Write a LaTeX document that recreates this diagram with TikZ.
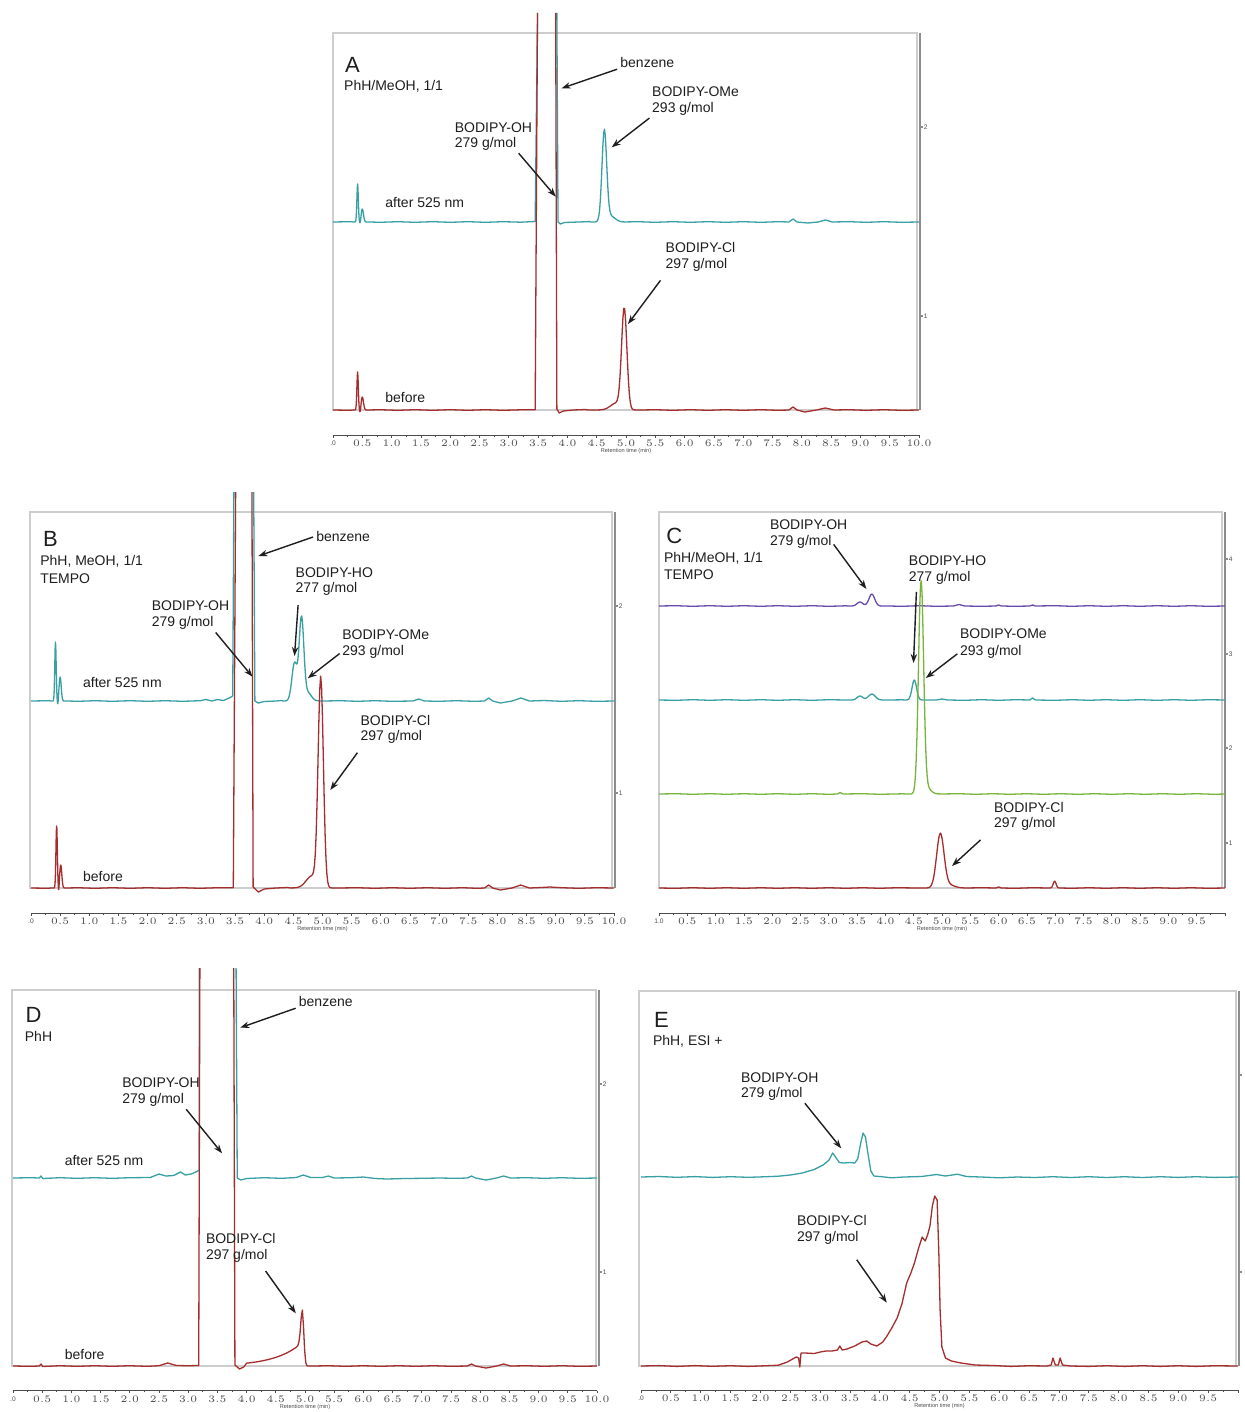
\documentclass[tikz,border=0pt]{standalone}
\usepackage{fontspec}
\setmainfont{Liberation Sans}
\usetikzlibrary{arrows.meta}

\definecolor{tealtr}{RGB}{56,160,165}
\definecolor{redtr}{RGB}{165,45,45}
\definecolor{purtr}{RGB}{105,75,170}
\definecolor{grntr}{RGB}{120,180,60}
\definecolor{framec}{RGB}{205,205,205}
\definecolor{axisc}{RGB}{140,140,140}
\definecolor{textc}{RGB}{30,30,30}

\tikzset{
  lbl/.style={anchor=west, inner sep=0pt, text=textc, font=\fontsize{7}{8}\selectfont},
  panel/.style={anchor=west, inner sep=0pt, text=textc, font=\fontsize{11}{12}\selectfont},
  arr/.style={-{Stealth[length=4.5pt,width=3.2pt]}, line width=0.7pt, draw=textc, shorten <=1.5pt},
  trace/.style={line width=0.65pt, line join=round},
  framel/.style={draw=framec, line width=0.6pt},
  yaxl/.style={draw=axisc, line width=1pt},
  axl/.style={draw=black!70, line width=0.4pt},
  ticklbl/.style={inner sep=0pt, font=\fontsize{3.3}{4}\selectfont, text=black!70},
  axtitle/.style={inner sep=0pt, font=\fontsize{2.8}{3}\selectfont, text=black!70}
}

% one gaussian term: centre, width, height (in px)
\newcommand{\gterm}[3]{#3*exp(-0.5*min(((\x-#1)/#2)^2,16))}
% a sampled piece of a trace
\newcommand{\pkseg}[4]{-- plot[domain=#1:#2,samples=#3] (\x,{#4})}

% retention time axis: x0, y, px per min, last label, first label, name
\newcommand{\rtaxis}[6]{%
  \begin{scope}[shift={(#1,#2)},xscale=#3]
    \draw[axl] (0,0) -- (10,0);
    \foreach \k in {0,...,40} {\draw[axl] (\k/4,0) -- (\k/4,1.8);}
    \foreach \k in {0,2,...,40} {\draw[axl] (\k/4,0) -- (\k/4,2.6);}
    \node[ticklbl] (#6l0) at (0,8.5) {#5};
    \foreach \k in {1,...,#4} {%
      \pgfmathsetmacro\tv{\k/2}%
      \node[ticklbl] (#6l\k) at (\tv,8.5) {\pgfmathprintnumber[fixed,fixed zerofill,precision=1]{\tv}};}
    \node[axtitle] (#6ttl) at (5,16.5) {Retention time (min)};
  \end{scope}}

\begin{document}
\begin{tikzpicture}[x=0.5pt,y=-0.5pt]
\useasboundingbox[fill=white] (0,0) rectangle (1244,1412);

%% ---------------- panel A ----------------
\draw[framel] (333,33) rectangle (917,410);
\draw[yaxl] (919.5,33) -- (919.5,410);
\foreach \yy/\ll in {127/2,316/1} {
  \draw[yaxl] (919.5,\yy) -- (922.5,\yy);
  \node[ticklbl,anchor=west] (yA\ll) at (923.5,\yy) {\ll};
}
\rtaxis{333}{435}{58.6}{20}{.0}{xA}

\begin{scope}[shift={(333,222)},xscale=58.6,yscale=-1]
  \draw[trace,tealtr] (0,0) -- (0.3,0.3)
    \pkseg{0.34}{0.62}{50}{\gterm{0.42}{0.012}{38}+\gterm{0.5}{0.02}{13}-\gterm{0.465}{0.01}{3}}
    -- (0.8,-0.3) -- (1.1,0.3) -- (1.4,-0.3) -- (1.7,0.3) -- (2.0,-0.3) -- (2.3,0.3)
    -- (2.6,-0.3) -- (2.9,0.3) -- (3.2,-0.2) -- (3.45,0.5) -- (3.49,209)
    (3.82,209) -- (3.84,0) -- (3.88,-2) -- (3.95,-0.5) -- (4.2,0) -- (4.38,0.4)
    \pkseg{4.4}{5.0}{45}{\gterm{4.63}{0.04}{90}+\gterm{4.73}{0.08}{6}}
    -- (5.2,0.3) -- (5.5,-0.3) -- (5.8,0.3) -- (6.1,-0.3) -- (6.4,0.3) -- (6.7,-0.3)
    -- (7.0,0.3) -- (7.3,-0.3) -- (7.6,0.3) -- (7.78,0) -- (7.85,3) -- (7.92,0)
    -- (8.1,-1) -- (8.28,0) -- (8.4,2) -- (8.52,0) -- (8.8,0.3) -- (9.1,-0.3)
    -- (9.4,0.3) -- (9.7,-0.3) -- (10,0);
\end{scope}
\begin{scope}[shift={(333,410)},xscale=58.6,yscale=-1]
  \draw[trace,redtr] (0,0) -- (0.3,-0.3)
    \pkseg{0.34}{0.62}{50}{\gterm{0.42}{0.012}{38}+\gterm{0.5}{0.02}{13}-\gterm{0.465}{0.01}{4}}
    -- (0.8,0.3) -- (1.1,-0.3) -- (1.4,0.3) -- (1.7,-0.3) -- (2.0,0.3) -- (2.3,-0.3)
    -- (2.6,0.3) -- (2.9,-0.3) -- (3.2,0.2) -- (3.45,0.3) -- (3.49,397)
    (3.80,397) -- (3.82,1) -- (3.86,-3) -- (3.93,-1) -- (4.1,0) -- (4.3,0.5)
    \pkseg{4.35}{5.3}{60}{\gterm{4.97}{0.045}{100}+\gterm{4.84}{0.1}{7}}
    -- (5.5,0.3) -- (5.8,-0.3) -- (6.1,0.3) -- (6.4,-0.3) -- (6.7,0.3) -- (7.0,-0.3)
    -- (7.3,0.3) -- (7.6,-0.3) -- (7.78,0) -- (7.85,3) -- (7.92,0) -- (8.05,-2)
    -- (8.25,0) -- (8.4,2) -- (8.55,0) -- (8.8,0.3) -- (9.1,-0.3) -- (9.4,0.3)
    -- (9.7,-0.3) -- (10,0);
\end{scope}

\node[panel] (letA) at (344.6,65) {A};
\node[lbl] (condA) at (343.8,86) {PhH/MeOH, 1/1};
\node[lbl] (benzA) at (620,62.7) {benzene};
\node[lbl] (omeA1) at (651.8,91.7) {BODIPY-OMe};
\node[lbl] (omeA2) at (651.8,109.3) {293 g/mol};
\node[lbl] (ohA1) at (454.4,127.3) {BODIPY-OH};
\node[lbl] (ohA2) at (454.4,144) {279 g/mol};
\node[lbl] (aftA) at (385,203) {after 525 nm};
\node[lbl] (clA1) at (665.3,247.7) {BODIPY-Cl};
\node[lbl] (clA2) at (665.3,265) {297 g/mol};
\node[lbl] (befA) at (385,397.7) {before};

\coordinate (benzAp) at (561.6,88.3);
\coordinate (omeAp) at (611.7,147.3);
\coordinate (ohAp) at (555.8,196.7);
\coordinate (clAp) at (628,324);
\draw[arr] (benzA.south west) -- (benzAp);
\draw[arr] (omeA2.south west) -- (omeAp);
\draw[arr] (ohA2.south east) -- (ohAp);
\draw[arr] ([shift={(-3,6)}]clA2.south west) -- (clAp);

%% ---------------- panel B ----------------
\draw[framel] (30,512) rectangle (612,888);
\draw[yaxl] (614.5,512) -- (614.5,888);
\foreach \yy/\ll in {606/2,793/1} {
  \draw[yaxl] (614.5,\yy) -- (617.5,\yy);
  \node[ticklbl,anchor=west] (yB\ll) at (618.5,\yy) {\ll};
}
\rtaxis{31}{913}{58.3}{20}{.0}{xB}

\begin{scope}[shift={(31,701)},xscale=58.3,yscale=-1]
  \draw[trace,tealtr] (0,0) -- (0.3,0.3)
    \pkseg{0.34}{0.62}{50}{\gterm{0.42}{0.012}{59}+\gterm{0.5}{0.018}{24}-\gterm{0.46}{0.008}{5}}
    -- (0.8,-0.3) -- (1.1,0.3) -- (1.4,-0.3) -- (1.7,0.3) -- (2.0,-0.3) -- (2.3,0.3)
    -- (2.6,-0.3) -- (2.9,0.3) -- (3.0,1.5) -- (3.1,0) -- (3.2,1.5) -- (3.3,0.5)
    -- (3.4,3) -- (3.46,5) -- (3.48,209)
    (3.82,209) -- (3.84,0) -- (3.9,-2) -- (4.0,-0.5) -- (4.2,0) -- (4.3,0.5)
    \pkseg{4.32}{5.05}{55}{\gterm{4.52}{0.045}{38}+\gterm{4.64}{0.04}{83}+\gterm{4.75}{0.06}{8}}
    -- (5.3,0.3) -- (5.6,-0.3) -- (5.9,0.3) -- (6.2,-0.3) -- (6.55,0) -- (6.65,2)
    -- (6.75,0) -- (7.0,-0.3) -- (7.3,0.3) -- (7.6,-0.3) -- (7.78,0) -- (7.85,3)
    -- (7.92,0) -- (8.05,-2) -- (8.25,0) -- (8.4,3) -- (8.55,0) -- (8.8,0.5)
    -- (9.1,-0.3) -- (9.4,0.3) -- (9.7,-0.3) -- (10,0);
\end{scope}
\begin{scope}[shift={(31,888)},xscale=58.3,yscale=-1]
  \draw[trace,redtr] (0,0) -- (0.3,-0.3)
    \pkseg{0.34}{0.64}{50}{\gterm{0.44}{0.012}{63}+\gterm{0.51}{0.018}{23}-\gterm{0.475}{0.008}{6}}
    -- (0.8,0.3) -- (1.1,-0.3) -- (1.4,0.3) -- (1.7,-0.3) -- (2.0,0.3) -- (2.3,-0.3)
    -- (2.6,0.3) -- (2.9,-0.3) -- (3.2,0.3) -- (3.47,0.3) -- (3.51,396)
    (3.79,396) -- (3.81,1) -- (3.9,-4) -- (4.0,-1) -- (4.2,0) -- (4.4,0.5)
    \pkseg{4.45}{5.35}{60}{\gterm{4.97}{0.045}{208}+\gterm{4.82}{0.1}{12}}
    -- (5.6,0.3) -- (5.9,-0.3) -- (6.2,0.3) -- (6.5,-0.3) -- (6.8,0.3) -- (7.1,-0.3)
    -- (7.4,0.3) -- (7.65,-0.3) -- (7.78,0) -- (7.85,3) -- (7.92,0) -- (8.05,-2)
    -- (8.25,0) -- (8.4,3) -- (8.55,0) -- (8.75,0.5) -- (8.9,1) -- (9.1,0.3)
    -- (9.4,-0.3) -- (9.7,0.3) -- (10,0);
\end{scope}

\node[panel] (letB) at (42.7,539.3) {B};
\node[lbl] (condB1) at (39.9,561.7) {PhH, MeOH, 1/1};
\node[lbl] (condB2) at (39.9,578.3) {TEMPO};
\node[lbl] (benzB) at (315.9,536) {benzene};
\node[lbl] (hoB1) at (295.3,572.7) {BODIPY-HO};
\node[lbl] (hoB2) at (295.3,589.3) {277 g/mol};
\node[lbl] (ohB1) at (151.5,606) {BODIPY-OH};
\node[lbl] (ohB2) at (151.5,623.3) {279 g/mol};
\node[lbl] (omeB1) at (342,635) {BODIPY-OMe};
\node[lbl] (omeB2) at (342,651.7) {293 g/mol};
\node[lbl] (aftB) at (82.7,682.3) {after 525 nm};
\node[lbl] (clB1) at (360.2,720.7) {BODIPY-Cl};
\node[lbl] (clB2) at (360.2,737.3) {297 g/mol};
\node[lbl] (befB) at (82.7,876.7) {before};

\coordinate (benzBp) at (258.4,556);
\coordinate (hoBp) at (294.5,656);
\coordinate (ohBp) at (252.5,676.7);
\coordinate (omeBp) at (307.7,678.3);
\coordinate (clBp) at (330.3,790);
\draw[arr] (benzB.west) -- (benzBp);
\draw[arr] ([shift={(3,6)}]hoB2.south west) -- (hoBp);
\draw[arr] (ohB2.south east) -- (ohBp);
\draw[arr] (omeB2.west) -- (omeBp);
\draw[arr] ([shift={(-1,6)}]clB2.south west) -- (clBp);

%% ---------------- panel C ----------------
\draw[framel] (659,512) rectangle (1222,888);
\draw[yaxl] (1224.5,512) -- (1224.5,888);
\foreach \yy/\ll in {559/4,654/3,748/2,843/1} {
  \draw[yaxl] (1224.5,\yy) -- (1227.5,\yy);
  \node[ticklbl,anchor=west] (yC\ll) at (1228.5,\yy) {\ll};
}
\rtaxis{659}{913}{56.6}{19}{1.0}{xC}

\begin{scope}[shift={(659,606)},xscale=56.6,yscale=-1]
  \draw[trace,purtr] (0,0) -- (0.3,0.3) -- (0.6,-0.3) -- (0.9,0.3) -- (1.2,-0.3)
    -- (1.5,0.3) -- (1.8,-0.3) -- (2.1,0.3) -- (2.4,-0.3) -- (2.7,0.3) -- (3.0,-0.3)
    -- (3.3,0.2)
    \pkseg{3.35}{4.05}{35}{\gterm{3.55}{0.05}{4}+\gterm{3.76}{0.05}{12}}
    -- (4.3,-0.3) -- (4.6,0.3) -- (4.9,-0.3) -- (5.2,0) -- (5.3,1.5) -- (5.4,0)
    -- (5.7,-0.3) -- (5.95,0) -- (6.0,1) -- (6.05,0) -- (6.3,-0.3) -- (6.55,0)
    -- (6.6,1) -- (6.65,0) -- (7.0,0.3) -- (7.3,-0.3) -- (7.6,0.3) -- (7.9,-0.3)
    -- (8.2,0.3) -- (8.5,-0.3) -- (8.8,0.3) -- (9.1,-0.3) -- (9.4,0.3) -- (9.7,-0.3)
    -- (10,0);
\end{scope}
\begin{scope}[shift={(659,700)},xscale=56.6,yscale=-1]
  \draw[trace,tealtr] (0,0) -- (0.3,-0.3) -- (0.6,0.3) -- (0.9,-0.3) -- (1.2,0.3)
    -- (1.5,-0.3) -- (1.8,0.3) -- (2.1,-0.3) -- (2.4,0.3) -- (2.7,-0.3) -- (3.0,0.3)
    -- (3.3,0)
    \pkseg{3.35}{4.05}{35}{\gterm{3.55}{0.05}{4}+\gterm{3.76}{0.06}{6}}
    -- (4.3,0.2)
    \pkseg{4.35}{4.7}{30}{\gterm{4.51}{0.04}{20}}
    -- (4.9,0) -- (5.0,1) -- (5.1,0) -- (5.4,-0.3) -- (5.7,0.3) -- (6.0,-0.3)
    -- (6.3,0.3) -- (6.55,0) -- (6.6,2) -- (6.65,0) -- (7.0,-0.3) -- (7.3,0.3)
    -- (7.6,-0.3) -- (7.9,0.3) -- (8.2,-0.3) -- (8.5,0.3) -- (8.8,-0.3) -- (9.1,0.3)
    -- (9.4,-0.3) -- (9.7,0.3) -- (10,0);
\end{scope}
\begin{scope}[shift={(659,794)},xscale=56.6,yscale=-1]
  \draw[trace,grntr] (0,0) -- (0.3,0.3) -- (0.6,-0.3) -- (0.9,0.3) -- (1.2,-0.3)
    -- (1.5,0.3) -- (1.8,-0.3) -- (2.1,0.3) -- (2.4,-0.3) -- (2.7,0.3) -- (3.0,-0.3)
    -- (3.15,0) -- (3.2,1.5) -- (3.25,0) -- (3.6,0.3) -- (3.9,-0.3) -- (4.3,0.2)
    \pkseg{4.35}{5.05}{55}{\gterm{4.63}{0.045}{212}+\gterm{4.73}{0.07}{6}}
    -- (5.3,0.3) -- (5.6,-0.3) -- (5.9,0.3) -- (6.2,-0.3) -- (6.5,0.3) -- (6.8,-0.3)
    -- (7.1,0.3) -- (7.4,-0.3) -- (7.7,0.3) -- (8.0,-0.3) -- (8.3,0.3) -- (8.6,-0.3)
    -- (8.9,0.3) -- (9.2,-0.3) -- (9.5,0.3) -- (9.8,-0.3) -- (10,0);
\end{scope}
\begin{scope}[shift={(659,888)},xscale=56.6,yscale=-1]
  \draw[trace,redtr] (0,0) -- (0.3,-0.3) -- (0.6,0.3) -- (0.9,-0.3) -- (1.2,0.3)
    -- (1.5,-0.3) -- (1.8,0.3) -- (2.1,-0.3) -- (2.4,0.3) -- (2.7,-0.3) -- (3.0,0.3)
    -- (3.3,-0.3) -- (3.6,0.3) -- (3.9,-0.3) -- (4.2,0.3) -- (4.55,0)
    \pkseg{4.6}{5.45}{45}{\gterm{4.97}{0.065}{54}+\gterm{5.12}{0.1}{3}}
    -- (5.7,0.3) -- (5.95,0) -- (6.0,1) -- (6.05,0) -- (6.3,-0.3) -- (6.6,0.3)
    -- (6.88,0)
    \pkseg{6.9}{7.08}{14}{\gterm{6.99}{0.025}{7}}
    -- (7.3,-0.3) -- (7.6,0.3) -- (7.9,-0.3) -- (8.2,0.3) -- (8.5,-0.3) -- (8.8,0.3)
    -- (9.1,-0.3) -- (9.4,0.3) -- (9.7,-0.3) -- (10,0);
\end{scope}

\node[panel] (letC) at (666,536) {C};
\node[lbl] (condC1) at (663.6,558) {PhH/MeOH, 1/1};
\node[lbl] (condC2) at (663.6,575) {TEMPO};
\node[lbl] (ohC1) at (769.6,525) {BODIPY-OH};
\node[lbl] (ohC2) at (769.6,542) {279 g/mol};
\node[lbl] (hoC1) at (908.5,561) {BODIPY-HO};
\node[lbl] (hoC2) at (908.5,578) {277 g/mol};
\node[lbl] (omeC1) at (959.7,634) {BODIPY-OMe};
\node[lbl] (omeC2) at (959.7,652) {293 g/mol};
\node[lbl] (clC1) at (993.7,807) {BODIPY-Cl};
\node[lbl] (clC2) at (993.7,824) {297 g/mol};

\coordinate (ohCp) at (866.4,589);
\coordinate (hoCp) at (913.5,663);
\coordinate (omeCp) at (925.8,678);
\coordinate (clCp) at (952,866);
\draw[arr] (ohC2.east) -- (ohCp);
\draw[arr] ([shift={(8,4)}]hoC2.south west) -- (hoCp);
\draw[arr] (omeC2.west) -- (omeCp);
\draw[arr] ([shift={(-11,7)}]clC2.south west) -- (clCp);

%% ---------------- panel D ----------------
\draw[framel] (12,990) rectangle (596,1366);
\draw[yaxl] (598.5,990) -- (598.5,1366);
\foreach \yy/\ll in {1084/2,1272/1} {
  \draw[yaxl] (598.5,\yy) -- (601.5,\yy);
  \node[ticklbl,anchor=west] (yD\ll) at (602.5,\yy) {\ll};
}
\rtaxis{13}{1390.5}{58.4}{20}{.0}{xD}

\begin{scope}[shift={(13,1178)},xscale=58.4,yscale=-1]
  \draw[trace,tealtr] (0,0) -- (0.3,0.3) -- (0.45,0) -- (0.48,2) -- (0.51,-0.5)
    -- (0.8,0.3) -- (1.1,-0.3) -- (1.4,0.3) -- (1.7,-0.3) -- (2.0,0.3) -- (2.35,0.5)
    -- (2.5,4) -- (2.62,2) -- (2.75,2.5) -- (2.87,6) -- (2.95,3) -- (3.05,4)
    -- (3.15,6.5) -- (3.19,8) -- (3.19,210)
    (3.82,210) -- (3.84,0) -- (3.9,-2) -- (4.0,-0.5) -- (4.3,0.3) -- (4.6,-0.3)
    -- (4.85,0.5) -- (4.97,3) -- (5.1,0.5) -- (5.3,0.5) -- (5.4,2) -- (5.5,0)
    -- (5.8,0.3) -- (6.0,1) -- (6.2,-0.5) -- (6.4,-1) -- (6.7,-0.5) -- (7.0,-0.3)
    -- (7.3,0) -- (7.6,-0.3) -- (7.78,0) -- (7.85,2) -- (7.92,0) -- (8.1,-2)
    -- (8.28,0) -- (8.4,2) -- (8.52,0) -- (8.8,0.3) -- (9.1,-0.3) -- (9.4,0.3)
    -- (9.7,-0.3) -- (10,0);
\end{scope}
\begin{scope}[shift={(13,1366)},xscale=58.4,yscale=-1]
  \draw[trace,redtr] (0,0) -- (0.3,-0.3) -- (0.45,0) -- (0.48,2) -- (0.51,-0.5)
    -- (0.8,0.3) -- (1.1,-0.3) -- (1.4,0.3) -- (1.7,-0.3) -- (2.0,0.3) -- (2.3,-0.3)
    -- (2.5,0.3) -- (2.65,3) -- (2.8,0.5) -- (3.0,0.3) -- (3.18,0.5) -- (3.2,398)
    (3.78,398) -- (3.80,1) -- (3.88,-3) -- (3.95,-1)
    \pkseg{4.0}{5.15}{60}{(\x<4.9)*21*exp((\x-4.9)/0.45)+(1-(\x<4.9))*\gterm{4.9}{0.03}{21}+\gterm{4.955}{0.025}{52}}
    -- (5.4,0.3) -- (5.7,-0.3) -- (6.0,0.3) -- (6.3,-0.3) -- (6.6,0.3) -- (6.9,-0.3)
    -- (7.2,0.3) -- (7.5,-0.3) -- (7.78,0) -- (7.85,2) -- (7.92,0) -- (8.1,-2)
    -- (8.28,0) -- (8.4,2) -- (8.52,0) -- (8.8,0.3) -- (9.1,-0.3) -- (9.4,0.3)
    -- (9.7,-0.3) -- (10,0);
\end{scope}

\node[panel] (letD) at (25.3,1015) {D};
\node[lbl] (condD) at (24.5,1036.7) {PhH};
\node[lbl] (benzD) at (298.5,1001.7) {benzene};
\node[lbl] (ohD1) at (122,1082.7) {BODIPY-OH};
\node[lbl] (ohD2) at (122,1100) {279 g/mol};
\node[lbl] (aftD) at (64.4,1160) {after 525 nm};
\node[lbl] (clD1) at (205.6,1238.3) {BODIPY-Cl};
\node[lbl] (clD2) at (205.6,1255.7) {297 g/mol};
\node[lbl] (befD) at (64.4,1354.3) {before};

\coordinate (benzDp) at (240.2,1027.7);
\coordinate (ohDp) at (222.1,1153.3);
\coordinate (clDp) at (295.8,1313.3);
\draw[arr] (benzD.south west) -- (benzDp);
\draw[arr] (ohD2.south east) -- (ohDp);
\draw[arr] ([shift={(-4,6)}]clD2.south east) -- (clDp);

%% ---------------- panel E ----------------
\draw[framel] (639,991) rectangle (1236,1366);
\draw[yaxl] (1238.5,991) -- (1238.5,1366);
\foreach \yy in {1075,1272} {
  \draw[yaxl] (1238.5,\yy) -- (1241.5,\yy);
}
\rtaxis{641}{1390}{59.7}{19}{.0}{xE}

\begin{scope}[shift={(641,1177)},xscale=59.7,yscale=-1]
  \draw[trace,tealtr] plot coordinates {(0,0) (0.3,0.5) (0.6,-0.3) (0.9,0.4) (1.2,-0.4)
    (1.5,0.3) (1.8,-0.3) (2.1,0.3) (2.3,0.8) (2.5,2) (2.7,4) (2.9,7.5) (3.05,12) (3.15,17)
    (3.21,24) (3.27,19) (3.32,14.5) (3.4,14) (3.5,14.5) (3.58,14) (3.63,18) (3.68,34)
    (3.72,44) (3.76,40) (3.8,24) (3.85,6) (3.9,1) (4.0,0.5) (4.2,-0.8) (4.4,0) (4.7,0.5)
    (4.95,2.5) (5.1,1) (5.3,2.8) (5.45,0.5) (5.7,0) (6.0,-0.8) (6.3,0) (6.6,-0.5) (6.9,0.3)
    (7.2,-0.5) (7.5,0.3) (7.8,-0.5) (8.1,0.3) (8.4,-0.5) (8.7,0.3) (9.0,-0.4) (9.3,0.3)
    (9.6,-0.4) (10,0)};
\end{scope}
\begin{scope}[shift={(641,1366)},xscale=59.7,yscale=-1]
  \draw[trace,redtr] plot coordinates {(0,0) (0.3,0.4) (0.6,-0.4) (0.9,0.4) (1.2,-0.3)
    (1.5,0.3) (1.8,-0.4) (2.1,0.3) (2.3,0.8) (2.45,4) (2.6,9) (2.64,8) (2.66,-1) (2.68,13)
    (2.75,13) (2.9,12.5) (3.0,14) (3.1,15) (3.2,15) (3.29,16) (3.33,20) (3.37,16) (3.45,17)
    (3.58,20) (3.7,24) (3.78,25) (3.85,22) (3.95,20) (4.05,24) (4.12,30) (4.2,38) (4.29,48)
    (4.37,62) (4.45,83) (4.52,93) (4.58,103) (4.65,118) (4.71,129) (4.76,125) (4.8,131)
    (4.84,140) (4.88,160) (4.92,170) (4.96,166) (4.99,110) (5.01,56) (5.04,19) (5.1,8)
    (5.2,5) (5.36,3) (5.6,1) (5.9,0.5) (6.2,-0.4) (6.5,0.3) (6.8,0) (6.87,1) (6.9,8)
    (6.94,1) (6.99,1) (7.02,8) (7.06,1) (7.2,0) (7.5,-0.4) (7.8,0.3) (8.1,-0.4) (8.4,0.3)
    (8.7,-0.4) (9.0,0.3) (9.3,-0.4) (9.6,0.3) (10,0)};
\end{scope}

\node[panel] (letE) at (653.7,1020) {E};
\node[lbl] (condE) at (652.6,1041.7) {PhH, ESI +};
\node[lbl] (ohE1) at (740.7,1077.3) {BODIPY-OH};
\node[lbl] (ohE2) at (740.7,1094) {279 g/mol};
\node[lbl] (clE1) at (796.7,1220.7) {BODIPY-Cl};
\node[lbl] (clE2) at (796.7,1238.3) {297 g/mol};

\coordinate (ohEp) at (841.2,1148.3);
\coordinate (clEp) at (886.8,1302.7);
\draw[arr] (ohE2.south east) -- (ohEp);
\draw[arr] ([shift={(-4,12)}]clE2.south east) -- (clEp);
\end{tikzpicture}
\end{document}
